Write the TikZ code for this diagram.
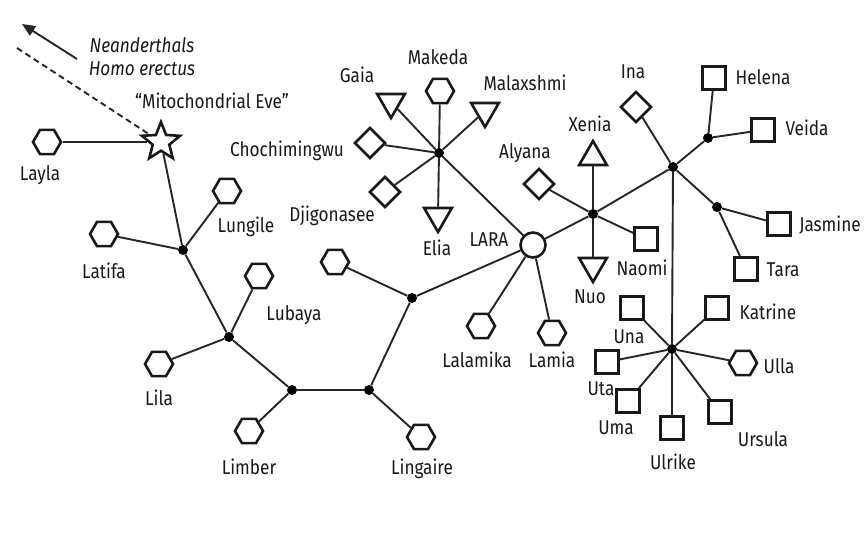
\documentclass[tikz,border=0pt]{standalone}
\usepackage{fontspec}
\setmainfont{Fira Sans}[FakeStretch=0.86]
\usetikzlibrary{shapes.geometric,arrows.meta}
\begin{document}
\begin{tikzpicture}[x=1pt,y=-1pt,
  every node/.style={inner sep=0pt},
  shp/.style={draw=black!90,line width=2.6pt,fill=white,inner sep=0pt},
  hexn/.style={shp,regular polygon,regular polygon sides=6,minimum size=28pt},
  sq/.style={shp,rectangle,minimum size=23pt},
  dia/.style={shp,diamond,minimum width=31pt,minimum height=31pt},
  tdown/.style={shp,regular polygon,regular polygon sides=3,shape border rotate=180,minimum size=32pt},
  tup/.style={shp,regular polygon,regular polygon sides=3,minimum size=32pt},
  junc/.style={circle,fill=black,minimum size=10pt},
  lab/.style={font=\fontsize{20}{22}\selectfont,text=black!90},
  ital/.style={font=\fontsize{20}{22}\selectfont\itshape,text=black!90},
  conn/.style={line width=1.9pt,draw=black!85}]
\useasboundingbox (0,0) rectangle (868,533);
\fill[white] (0,0) rectangle (868,533);

% junctions
\node[junc] (A) at (183,250) {};
\node[junc] (B) at (229,337) {};
\node[junc] (C) at (292,390) {};
\node[junc] (D) at (369,390) {};
\node[junc] (E) at (412,298) {};
\node[junc] (F) at (439,153) {};
\node[junc] (G) at (593,214) {};
\node[junc] (H) at (673,167) {};
\node[junc] (I) at (708,138) {};
\node[junc] (J) at (717,207) {};
\node[junc] (K) at (672,349) {};

% shapes
\node[shp,star,star points=5,star point ratio=2.3,minimum size=40pt] (eve) at (161,142) {};
\node[hexn] (layla) at (47,142) {};
\node[hexn] (latifa) at (104,234) {};
\node[hexn] (lungile) at (227,191) {};
\node[hexn] (lubaya) at (259,276) {};
\node[hexn] (lila) at (159,364) {};
\node[hexn] (limber) at (249,431) {};
\node[hexn] (lingaire) at (421,437) {};
\node[hexn] (hexu) at (335,262) {};
\node[shp,circle,minimum size=25pt] (lara) at (533,245) {};
\node[hexn] (lalamika) at (481,326) {};
\node[hexn] (lamia) at (552,333) {};
\node[hexn] (makeda) at (440,91) {};
\node[tdown] (gaia) at (391,102) {};
\node[tdown] (malaxshmi) at (485,111) {};
\node[dia] (chochi) at (370,143) {};
\node[dia] (djigo) at (385,192) {};
\node[tdown] (elia) at (438,216) {};
\node[tup] (xenia) at (593,157) {};
\node[dia] (alyana) at (539,184) {};
\node[tdown] (nuo) at (593,266) {};
\node[sq] (naomi) at (646,239) {};
\node[dia] (ina) at (636,107) {};
\node[sq] (helena) at (714,78) {};
\node[sq] (veida) at (763,130) {};
\node[sq] (jasmine) at (779,224) {};
\node[sq] (tara) at (746,269) {};
\node[sq] (una) at (632,308) {};
\node[sq] (katrine) at (717,308) {};
\node[sq] (uta) at (607,362) {};
\node[hexn] (ulla) at (743,363) {};
\node[sq] (uma) at (628,401) {};
\node[sq] (ulrike) at (672,428) {};
\node[sq] (ursula) at (720,412) {};

% connectors
\draw[conn] (layla) -- (eve);
\draw[conn] (eve) -- (A);
\draw[conn] (A) -- (latifa);
\draw[conn] (A) -- (lungile);
\draw[conn] (A) -- (B);
\draw[conn] (B) -- (lubaya);
\draw[conn] (B) -- (lila);
\draw[conn] (B) -- (C);
\draw[conn] (C) -- (limber);
\draw[conn] (C) -- (D);
\draw[conn] (D) -- (lingaire);
\draw[conn] (D) -- (E);
\draw[conn] (E) -- (hexu);
\draw[conn] (E) -- (lara);
\draw[conn] (lara) -- (lalamika);
\draw[conn] (lara) -- (lamia);
\draw[conn] (lara) -- (F);
\draw[conn] (lara) -- (G);
\draw[conn] (F) -- (makeda);
\draw[conn] (F) -- (gaia);
\draw[conn] (F) -- (malaxshmi);
\draw[conn] (F) -- (chochi);
\draw[conn] (F) -- (djigo);
\draw[conn] (F) -- (elia);
\draw[conn] (G) -- (xenia);
\draw[conn] (G) -- (alyana);
\draw[conn] (G) -- (nuo);
\draw[conn] (G) -- (naomi);
\draw[conn] (G) -- (H);
\draw[conn] (H) -- (ina);
\draw[conn] (H) -- (I);
\draw[conn] (H) -- (J);
\draw[conn] (H) -- (K);
\draw[conn] (I) -- (helena);
\draw[conn] (I) -- (veida);
\draw[conn] (J) -- (jasmine);
\draw[conn] (J) -- (tara);
\draw[conn] (K) -- (una);
\draw[conn] (K) -- (katrine);
\draw[conn] (K) -- (uta);
\draw[conn] (K) -- (ulla);
\draw[conn] (K) -- (uma);
\draw[conn] (K) -- (ulrike);
\draw[conn] (K) -- (ursula);

% arrow and dashed line
\coordinate (atail) at (77,59);
\coordinate (atip) at (22,24);
\coordinate (dstart) at (17,48);
\draw[conn,-{Triangle[length=13pt,width=11pt]}] (atail) -- (atip);
\draw[conn,dash pattern=on 6pt off 4pt] (dstart) -- (eve);

% labels
\node[ital] (tnean) at (142,45) {Neanderthals};
\node[ital] (thomo) at (142,69) {Homo erectus};
\node[lab] (teve) at (212,101) {“Mitochondrial Eve”};
\node[lab] (tlayla) at (40,175) {Layla};
\node[lab] (tlatifa) at (104,271) {Latifa};
\node[lab] (tlungile) at (246,227) {Lungile};
\node[lab] (tlubaya) at (294,315) {Lubaya};
\node[lab] (tlila) at (159,398) {Lila};
\node[lab] (tlimber) at (249,467) {Limber};
\node[lab] (tlingaire) at (422,469) {Lingaire};
\node[lab] (tlara) at (489,240) {LARA};
\node[lab] (tlalamika) at (477,360) {Lalamika};
\node[lab] (tlamia) at (552,360) {Lamia};
\node[lab] (tmakeda) at (438,57) {Makeda};
\node[lab] (tgaia) at (357,75) {Gaia};
\node[lab] (tmalax) at (525,83) {Malaxshmi};
\node[lab] (tchochi) at (287,151) {Chochimingwu};
\node[lab] (tdjigo) at (332,216) {Djigonasee};
\node[lab] (telia) at (437,248) {Elia};
\node[lab] (txenia) at (590,124) {Xenia};
\node[lab] (talyana) at (525,153) {Alyana};
\node[lab] (tnuo) at (590,297) {Nuo};
\node[lab] (tnaomi) at (642,268) {Naomi};
\node[lab] (tina) at (633,72) {Ina};
\node[lab] (thelena) at (763,77) {Helena};
\node[lab] (tveida) at (807,128) {Veida};
\node[lab] (tjasmine) at (830,225) {Jasmine};
\node[lab] (ttara) at (783,270) {Tara};
\node[lab] (tuna) at (629,337) {Una};
\node[lab] (tkatrine) at (768,312) {Katrine};
\node[lab] (tuta) at (601,389) {Uta};
\node[lab] (tulla) at (779,366) {Ulla};
\node[lab] (tuma) at (616,428) {Uma};
\node[lab] (tulrike) at (673,462) {Ulrike};
\node[lab] (tursula) at (763,439) {Ursula};
\end{tikzpicture}
\end{document}
